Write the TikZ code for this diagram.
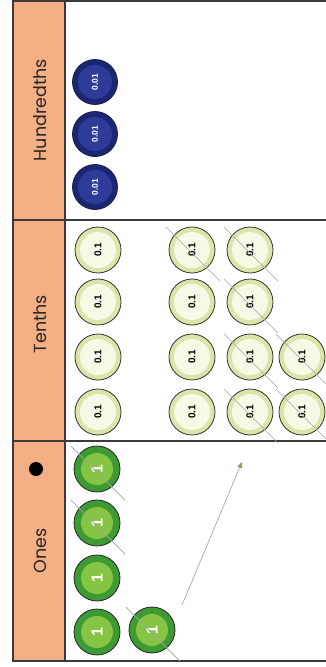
\documentclass[tikz,border=0pt]{standalone}
\usepackage{fontspec}
\setmainfont{Poppins}
\newfontfamily\cntfont{Liberation Sans}
\usetikzlibrary{calc,arrows.meta}
\definecolor{headfill}{HTML}{F5AF85}
\definecolor{framecol}{HTML}{3A3A3A}
\definecolor{navyout}{HTML}{1B2772}
\definecolor{navyin}{HTML}{2C3C98}
\definecolor{tenout}{HTML}{DCE4AA}
\definecolor{tenin}{HTML}{F7F8E6}
\definecolor{oneout}{HTML}{3E9B33}
\definecolor{onein}{HTML}{86C443}
\definecolor{strikecol}{HTML}{A0A3AE}
\definecolor{arrowcol}{HTML}{A8AAA0}
\definecolor{arrowtip}{HTML}{7FA060}
\tikzset{
  frameline/.style={draw=framecol, line width=1.5pt},
  collabel/.style={rotate=90, font=\fontsize{17.5}{17.5}\selectfont, text=black!85},
  hundc/.style={circle, draw=navyout!70!black, line width=0.8pt, fill=navyout, minimum size=45pt, inner sep=0pt, rotate=90,
    path picture={\fill[navyin] (path picture bounding box.center) circle (17pt);},
    font=\cntfont\bfseries\fontsize{8.5}{8.5}\selectfont, text=white},
  tenc/.style={circle, draw=black!80, line width=0.8pt, fill=tenout, minimum size=46pt, inner sep=0pt, rotate=90,
    path picture={\fill[tenin] (path picture bounding box.center) circle (18pt);},
    font=\cntfont\bfseries\fontsize{10}{10}\selectfont, text=black},
  onec/.style={circle, draw=black!85, line width=0.8pt, fill=oneout, minimum size=46pt, inner sep=0pt, rotate=90,
    path picture={\fill[onein] (path picture bounding box.center) circle (16pt);},
    font=\cntfont\bfseries\fontsize{16}{16}\selectfont, text=white},
  strike/.style={draw=strikecol, line width=0.7pt},
}
\begin{document}
\begin{tikzpicture}[x=1pt,y=-1pt]
\useasboundingbox (0,0) rectangle (326,667);
% header column
\fill[headfill] (13,1) rectangle (65,661);
% frame
\draw[frameline] (340,1) -- (13,1) -- (13,661) -- (340,661);
\draw[frameline] (65,1) -- (65,661);
\draw[frameline] (13,220) -- (340,220);
\draw[frameline] (13,441) -- (340,441);
% labels
\node[collabel] (lh) at (40,110) {Hundredths};
\node[collabel] (lt) at (40,324) {Tenths};
\node[collabel] (lo) at (40,551) {Ones};
\node[circle, fill=black, minimum size=14pt, inner sep=0pt] (dot) at (36,469) {};
% hundredths
\node[hundc] (h1) at (95,82) {0.01};
\node[hundc] (h2) at (95,134) {0.01};
\node[hundc] (h3) at (95,187) {0.01};
% tenths
\foreach \c/\x in {1/98,2/192,3/250} {
  \foreach \r/\y in {1/250,2/302,3/357,4/412} {
    \node[tenc] (t\c\r) at (\x,\y) {0.1};
  }
}
\node[tenc] (t43) at (302,357) {0.1};
\node[tenc] (t44) at (302,412) {0.1};
% ones
\node[onec] (o1) at (97,469) {1};
\node[onec] (o2) at (97,523) {1};
\node[onec] (o3) at (97,578) {1};
\node[onec] (o4) at (97,632) {1};
\node[onec] (o5) at (152,630) {1};
% strike-outs
\foreach \n in {t21,t31,t32,t33,t34,t43,t44,o1,o2,o5} {
  \draw[strike] ($(\n)+(-26,-23)$) -- ($(\n)+(28,31)$);
}
% arrow
\coordinate (a0) at (182,605);
\coordinate (a1) at (242,462);
\draw[draw=arrowcol, line width=0.7pt, -{Triangle[length=6pt,width=5pt,color=arrowtip]}] (a0) -- (a1);
\end{tikzpicture}
\end{document}
